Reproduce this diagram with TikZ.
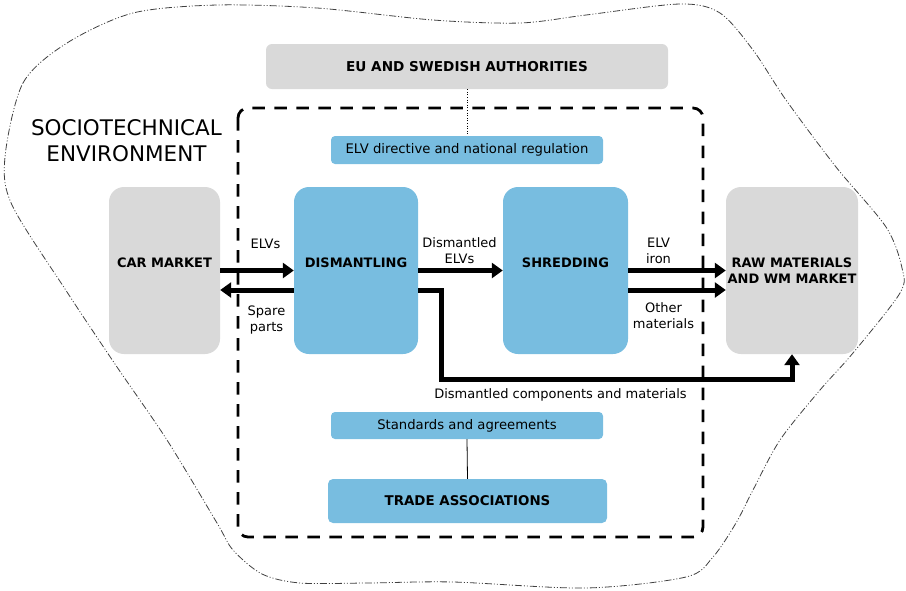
\documentclass[tikz,border=0pt]{standalone}
\usepackage{fontspec}
\setmainfont{DejaVu Sans}
\usetikzlibrary{arrows.meta,calc}
\definecolor{boxblue}{RGB}{120,189,224}
\definecolor{boxgrey}{RGB}{217,217,217}
\tikzset{
	greybox/.style={fill=boxgrey, rounded corners=15pt, inner sep=0pt, align=center, font=\bfseries\fontsize{13}{16}\selectfont},
	bluebox/.style={fill=boxblue, rounded corners=15pt, inner sep=0pt, align=center, font=\bfseries\fontsize{13}{16}\selectfont},
	flow/.style={line width=5pt, -{Triangle[length=11pt,width=15pt]}},
	lbl/.style={inner sep=0pt, align=center, font=\fontsize{13}{16}\selectfont},
	blob/.style={line width=0.8pt, color=black!75, dash pattern=on 7pt off 2pt on 1pt off 2pt on 1pt off 2pt},
	envframe/.style={line width=2.8pt, dash pattern=on 12.5pt off 9.5pt, rounded corners=10pt}
}

\begin{document}
\begin{tikzpicture}[x=1pt, y=-1pt]
		%%%%% START %%%%%
		\useasboundingbox (0, 0) rectangle (906, 590);
		
		% sociotechnical environment
		\draw[blob] plot[smooth cycle, tension=0.5] coordinates {(5, 157) (23, 83) (67, 43) (133, 13) (217, 5) (317, 8) (433, 20) (520, 23) (586, 15) (680, 4) (720, 13) (753, 50) (786, 100) (836, 167) (886, 227) (902, 268) (900, 293) (853, 353) (820, 390) (780, 440) (753, 490) (736, 523) (713, 557) (686, 577) (586, 588) (453, 582) (367, 583) (300, 583) (262, 574) (233, 550) (217, 523) (167, 440) (117, 367) (67, 292) (12, 205)};
		\node[lbl, font=\fontsize{21.5}{26}\selectfont] (env) at (126.5, 140.5) {SOCIOTECHNICAL\\ENVIRONMENT};
		
		\draw[envframe] (238, 108) rectangle (703, 537);
		
		\node[greybox, rounded corners=6pt, minimum width=402pt, minimum height=45pt, font=\bfseries\fontsize{13.6}{16}\selectfont] (eu) at (467, 66.5) {EU AND SWEDISH AUTHORITIES};
		\node[bluebox, rounded corners=4pt, minimum width=272pt, minimum height=28pt, font=\fontsize{13.2}{16}\selectfont] (elvdir) at (467, 150) {ELV directive and national regulation};
		
		\node[greybox, minimum width=111pt, minimum height=167pt, text depth=15pt] (car) at (164.5, 270.5) {CAR MARKET};
		\node[bluebox, minimum width=124pt, minimum height=167pt, text depth=15pt] (dism) at (356, 270.5) {DISMANTLING};
		\node[bluebox, minimum width=125pt, minimum height=167pt, text depth=15pt] (shred) at (565.5, 270.5) {SHREDDING};
		\node[greybox, minimum width=132pt, minimum height=167pt] (raw) at (792, 270.5) {RAW MATERIALS\\AND WM MARKET};
		
		\node[bluebox, rounded corners=4pt, minimum width=272pt, minimum height=27pt, font=\fontsize{13.2}{16}\selectfont] (std) at (467, 425.5) {Standards and agreements};
		\node[bluebox, rounded corners=5pt, minimum width=279pt, minimum height=44pt, font=\bfseries\fontsize{13.4}{16}\selectfont] (trade) at (467.5, 501) {TRADE ASSOCIATIONS};
		
		\draw[dotted, line width=0.6pt] (eu.south) -- (elvdir.north);
		\draw[line width=0.8pt] (std.south) -- (trade.north);
		
		% material flows
		\draw[flow] (car.east) -- (dism.west);
		\draw[flow] ($(dism.west)+(0, 19.5)$) -- ($(car.east)+(0, 19.5)$);
		\draw[flow] (dism.east) -- (shred.west);
		\draw[flow] (shred.east) -- (raw.west);
		\draw[flow] ($(shred.east)+(0, 19.5)$) -- ($(raw.west)+(0, 19.5)$);
		\draw[flow] ($(dism.east)+(0, 19.5)$) -- ++(23, 0) -- ++(0, 89) -| (raw.south);
		
		\node[lbl] (lelv) at (265.5, 244) {ELVs};
		\node[lbl] (lspare) at (266.5, 320) {Spare\\parts};
		\node[lbl] (ldism) at (459.5, 250.5) {Dismantled\\ELVs};
		\node[lbl] (liron) at (658.5, 251) {ELV\\iron};
		\node[lbl] (lother) at (663.5, 315.5) {Other\\materials};
		\node[lbl] (lcomp) at (560.5, 394.5) {Dismantled components and materials};
		
		%%%%% END %%%%%
	\end{tikzpicture}
\end{document}
